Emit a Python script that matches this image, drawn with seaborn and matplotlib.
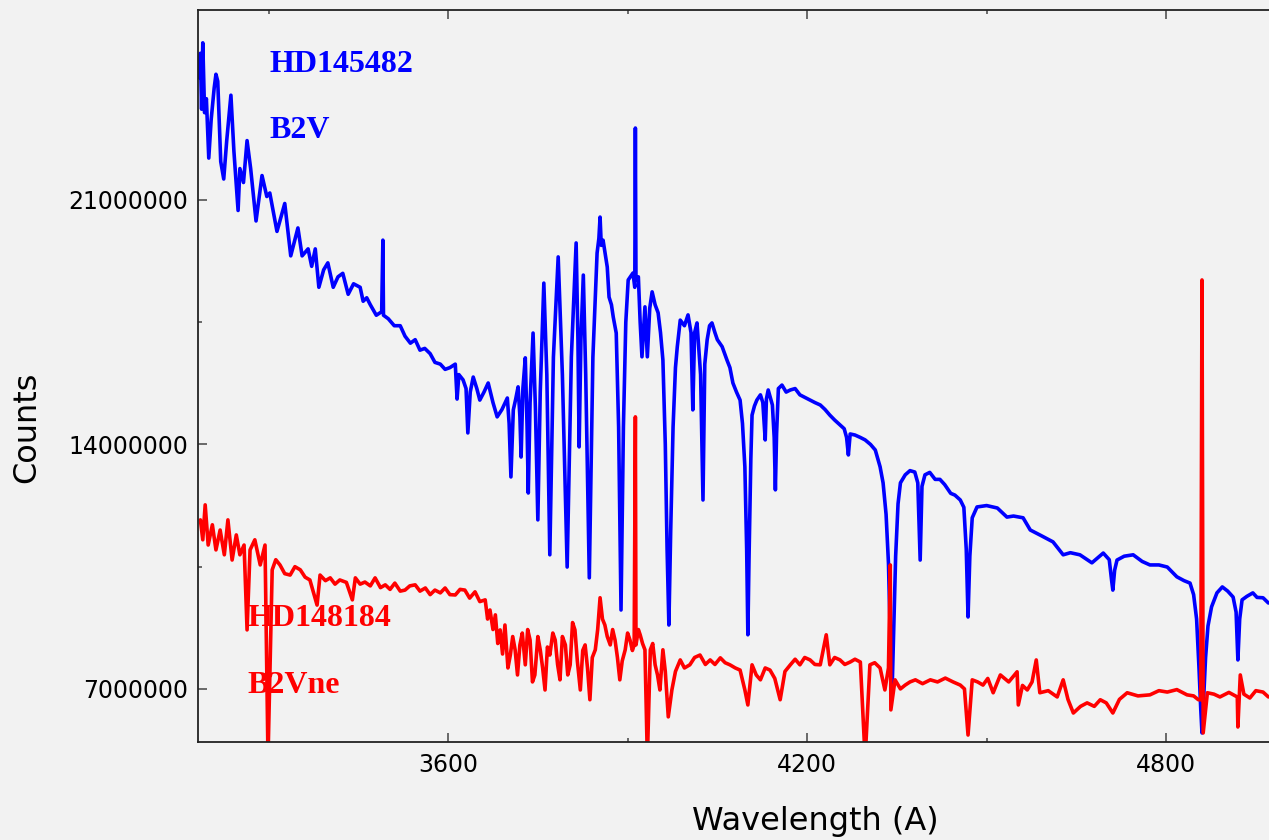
import numpy as np
import pandas as pd
import matplotlib
matplotlib.use("Agg")
import matplotlib.pyplot as plt
from matplotlib.ticker import MultipleLocator
import seaborn as sns

# HD145482 (B2V): (wavelength in A, counts in millions)
blue_points = [
    (3184, 24.5), (3186, 25.2), (3188, 23.6), (3190, 25.5), (3193, 23.5), (3196, 23.9),
    (3200, 22.2), (3204, 23.3), (3209, 24.2), (3212, 24.6), (3215, 24.4), (3220, 22.1),
    (3225, 21.6), (3230, 22.7), (3237, 24.0), (3242, 22.4), (3249, 20.7), (3252, 21.9),
    (3258, 21.5), (3264, 22.7), (3270, 21.9), (3279, 20.4), (3289, 21.7), (3297, 21.1),
    (3302, 21.2), (3314, 20.1), (3327, 20.9), (3337, 19.4), (3349, 20.2), (3356, 19.4),
    (3366, 19.6), (3372, 19.1), (3378, 19.6), (3384, 18.5), (3392, 19.0), (3399, 19.2),
    (3408, 18.5), (3416, 18.8), (3424, 18.9), (3433, 18.3), (3442, 18.6), (3453, 18.5),
    (3458, 18.1), (3464, 18.2), (3470, 18.0), (3480, 17.7), (3489, 17.8), (3491, 19.85),
    (3492, 17.7), (3500, 17.6), (3510, 17.4), (3520, 17.4), (3528, 17.1), (3537, 16.9),
    (3545, 17.0), (3553, 16.7), (3561, 16.75), (3570, 16.6), (3578, 16.35), (3587, 16.3),
    (3595, 16.15), (3603, 16.2), (3612, 16.3), (3615, 15.3), (3618, 16.0), (3625, 15.85),
    (3630, 15.6), (3633, 14.33), (3637, 15.5), (3642, 15.93), (3648, 15.6), (3653, 15.27),
    (3660, 15.5), (3667, 15.76), (3675, 15.2), (3682, 14.79), (3690, 15.0), (3699, 15.33),
    (3702, 14.6), (3705, 13.07), (3709, 14.99), (3713, 15.3), (3717, 15.65), (3720, 14.8),
    (3722, 13.64), (3725, 15.6), (3729, 16.48), (3732, 14.5), (3734, 12.61), (3737, 15.2),
    (3742, 17.19), (3746, 15.0), (3750, 11.84), (3754, 15.5), (3760, 18.62), (3765, 16.0),
    (3770, 10.84), (3776, 16.5), (3784, 19.37), (3791, 16.0), (3799, 10.49), (3806, 16.5),
    (3814, 19.77), (3817, 17.0), (3819, 13.93), (3822, 17.0), (3826, 18.85), (3830, 16.0),
    (3836, 10.18), (3842, 16.5), (3849, 19.48), (3852, 19.9), (3854, 20.51), (3856, 19.7),
    (3859, 19.85), (3866, 19.08), (3869, 18.22), (3873, 18.0), (3876, 17.65), (3881, 17.19),
    (3885, 14.5), (3889, 9.26), (3893, 14.5), (3897, 17.5), (3901, 18.71), (3909, 18.91),
    (3912, 18.5), (3913, 23.06), (3914, 18.7), (3918, 18.8), (3921, 17.5), (3924, 16.51),
    (3929, 17.94), (3933, 16.51), (3937, 17.9), (3941, 18.37), (3946, 18.0), (3951, 17.77),
    (3955, 17.2), (3959, 16.42), (3963, 14.0), (3966, 11.0), (3969, 8.83), (3972, 11.5),
    (3976, 14.5), (3980, 16.2), (3983, 16.79), (3988, 17.56), (3995, 17.4), (4001, 17.71),
    (4006, 17.2), (4009, 14.99), (4012, 17.2), (4016, 17.48), (4022, 16.0), (4026, 12.41),
    (4029, 16.3), (4033, 17.0), (4037, 17.4), (4041, 17.48), (4046, 17.2), (4050, 17.0),
    (4058, 16.8), (4066, 16.42), (4071, 16.2), (4076, 15.76), (4082, 15.5), (4088, 15.27),
    (4092, 14.6), (4096, 13.36), (4099, 11.0), (4101, 8.55), (4103, 10.8), (4106, 13.6),
    (4108, 14.84), (4112, 15.1), (4116, 15.27), (4122, 15.42), (4126, 15.2), (4130, 14.13),
    (4132, 15.3), (4135, 15.56), (4142, 15.13), (4145, 14.2), (4147, 12.7), (4149, 14.3),
    (4152, 15.6), (4158, 15.7), (4165, 15.5), (4172, 15.56), (4180, 15.6), (4188, 15.42),
    (4196, 15.35), (4205, 15.27), (4213, 15.2), (4222, 15.13), (4230, 15.0), (4238, 14.84),
    (4246, 14.7), (4255, 14.56), (4262, 14.45), (4266, 14.2), (4269, 13.7), (4272, 14.3),
    (4280, 14.27), (4289, 14.2), (4297, 14.13), (4306, 14.0), (4314, 13.84), (4322, 13.36),
    (4327, 12.9), (4332, 12.0), (4336, 10.6), (4339, 8.5), (4342, 6.9), (4345, 8.8),
    (4348, 10.8), (4352, 12.3), (4356, 12.9), (4364, 13.13), (4372, 13.25), (4380, 13.21),
    (4385, 12.9), (4389, 10.69), (4392, 12.8), (4397, 13.13), (4405, 13.2), (4414, 13.0),
    (4422, 13.0), (4430, 12.85), (4440, 12.6), (4447, 12.55), (4456, 12.41), (4462, 12.2),
    (4466, 11.0), (4469, 9.06), (4472, 10.8), (4476, 11.9), (4484, 12.21), (4500, 12.25),
    (4518, 12.18), (4534, 11.92), (4545, 11.95), (4561, 11.9), (4573, 11.55), (4590, 11.4),
    (4611, 11.21), (4628, 10.84), (4640, 10.9), (4656, 10.84), (4676, 10.61), (4695, 10.89),
    (4705, 10.7), (4709, 10.1), (4711, 9.83), (4714, 10.4), (4718, 10.69), (4730, 10.8),
    (4745, 10.84), (4760, 10.65), (4773, 10.55), (4788, 10.55), (4802, 10.49), (4818, 10.21),
    (4830, 10.1), (4840, 10.03), (4846, 9.7), (4851, 9.0), (4855, 7.6), (4858, 6.4),
    (4860, 5.74), (4863, 6.8), (4866, 7.9), (4870, 8.8), (4876, 9.35), (4885, 9.75),
    (4894, 9.92), (4903, 9.8), (4912, 9.63), (4917, 9.2), (4920, 7.83), (4923, 9.0),
    (4927, 9.55), (4935, 9.65), (4945, 9.75), (4952, 9.62), (4962, 9.61), (4971, 9.46),
]

# HD148184 (B2Vne)
red_points = [
    (3186, 11.84), (3190, 11.27), (3194, 12.27), (3199, 11.12), (3206, 11.7), (3212, 10.98),
    (3219, 11.55), (3226, 10.84), (3232, 11.84), (3239, 10.69), (3246, 11.41), (3252, 10.84),
    (3259, 11.12), (3264, 8.69), (3269, 10.98), (3277, 11.27), (3286, 10.55), (3294, 11.12),
    (3299, 5.0), (3306, 10.41), (3312, 10.7), (3319, 10.55), (3327, 10.3), (3336, 10.26),
    (3344, 10.5), (3353, 10.41), (3361, 10.2), (3369, 10.12), (3381, 9.4), (3386, 10.26),
    (3395, 10.1), (3403, 10.18), (3411, 10.0), (3419, 10.12), (3430, 10.05), (3440, 9.55),
    (3445, 10.18), (3453, 10.0), (3461, 10.06), (3470, 9.95), (3478, 10.18), (3487, 9.9),
    (3495, 9.98), (3503, 9.85), (3511, 10.03), (3520, 9.8), (3528, 9.83), (3536, 9.95),
    (3545, 9.98), (3553, 9.8), (3562, 9.89), (3570, 9.7), (3578, 9.83), (3587, 9.75),
    (3595, 9.89), (3603, 9.7), (3612, 9.69), (3620, 9.85), (3628, 9.83), (3636, 9.6),
    (3645, 9.78), (3653, 9.5), (3662, 9.55), (3666, 9.0), (3670, 9.26), (3675, 8.7),
    (3679, 9.12), (3683, 8.3), (3687, 8.69), (3691, 8.0), (3695, 8.83), (3700, 7.6),
    (3704, 7.97), (3708, 8.5), (3712, 8.12), (3716, 7.4), (3720, 8.26), (3724, 8.6),
    (3729, 7.69), (3733, 8.7), (3737, 8.4), (3741, 7.2), (3745, 7.4), (3750, 8.5),
    (3754, 8.12), (3758, 7.6), (3762, 6.97), (3766, 8.2), (3770, 7.97), (3775, 8.6),
    (3779, 8.4), (3783, 7.7), (3787, 7.26), (3791, 8.5), (3796, 8.26), (3800, 7.4),
    (3804, 7.69), (3808, 8.9), (3812, 8.69), (3816, 7.8), (3821, 6.97), (3825, 8.1),
    (3829, 8.26), (3833, 7.6), (3837, 6.69), (3841, 7.9), (3846, 8.12), (3850, 8.7),
    (3854, 9.61), (3858, 9.0), (3862, 8.83), (3866, 8.5), (3871, 8.26), (3875, 8.7),
    (3879, 8.4), (3883, 7.9), (3887, 7.26), (3891, 7.8), (3896, 8.12), (3900, 8.6),
    (3904, 8.4), (3908, 8.1), (3911, 8.26), (3913, 14.79), (3914, 8.26), (3918, 8.7),
    (3921, 8.55), (3925, 8.3), (3929, 8.12), (3933, 5.0), (3938, 8.12), (3942, 8.3),
    (3946, 7.69), (3950, 7.4), (3954, 6.97), (3959, 8.12), (3963, 7.5), (3968, 6.2),
    (3974, 6.97), (3980, 7.5), (3988, 7.83), (3995, 7.6), (4004, 7.69), (4012, 7.9),
    (4021, 7.97), (4030, 7.7), (4038, 7.83), (4046, 7.7), (4055, 7.89), (4063, 7.75),
    (4071, 7.69), (4080, 7.6), (4088, 7.54), (4096, 6.97), (4101, 6.54), (4108, 7.69),
    (4115, 7.4), (4122, 7.26), (4130, 7.6), (4138, 7.54), (4146, 7.3), (4155, 6.69),
    (4163, 7.5), (4172, 7.69), (4180, 7.85), (4188, 7.69), (4196, 7.9), (4205, 7.83),
    (4213, 7.7), (4222, 7.69), (4232, 8.55), (4238, 7.69), (4246, 7.9), (4255, 7.83),
    (4263, 7.7), (4272, 7.77), (4280, 7.85), (4289, 7.77), (4297, 5.0), (4305, 7.69),
    (4313, 7.75), (4322, 7.6), (4330, 6.97), (4336, 7.6), (4339, 10.55), (4340, 6.4),
    (4347, 7.26), (4356, 7.0), (4364, 7.11), (4372, 7.2), (4381, 7.26), (4393, 7.15),
    (4406, 7.26), (4418, 7.2), (4431, 7.31), (4444, 7.2), (4456, 7.11), (4463, 7.0),
    (4469, 5.68), (4476, 7.26), (4485, 7.2), (4494, 7.11), (4502, 7.3), (4511, 6.89),
    (4523, 7.4), (4537, 7.2), (4551, 7.49), (4553, 6.54), (4560, 7.1), (4568, 6.97),
    (4576, 7.2), (4583, 7.83), (4589, 6.89), (4603, 6.95), (4618, 6.77), (4628, 7.26),
    (4636, 6.7), (4645, 6.31), (4657, 6.5), (4668, 6.6), (4680, 6.5), (4690, 6.69),
    (4700, 6.6), (4711, 6.31), (4722, 6.7), (4735, 6.89), (4753, 6.8), (4773, 6.83),
    (4788, 6.95), (4802, 6.91), (4818, 6.98), (4835, 6.83), (4846, 6.8), (4854, 6.69),
    (4858, 6.69), (4860, 18.71), (4862, 5.74), (4869, 6.89), (4880, 6.85), (4890, 6.77),
    (4905, 6.9), (4919, 6.77), (4920, 5.91), (4924, 7.4), (4930, 6.85), (4940, 6.74),
    (4950, 6.95), (4962, 6.91), (4971, 6.77),
]

blue_wave, blue_mcounts = zip(*blue_points)
red_wave, red_mcounts = zip(*red_points)
blue = pd.DataFrame({"wave": blue_wave, "counts": np.array(blue_mcounts) * 1e6})
red = pd.DataFrame({"wave": red_wave, "counts": np.array(red_mcounts) * 1e6})

sns.set_style("ticks")
plt.rcParams["font.family"] = ["DejaVu Sans"]

bg = "#f2f2f2"
fig = plt.figure(figsize=(12.69, 8.4), dpi=100, facecolor=bg)
ax = fig.add_axes([198 / 1269, 1 - 742 / 840, 1 - 198 / 1269, 732 / 840])
ax.set_facecolor(bg)

sns.lineplot(data=blue, x="wave", y="counts", color="#0000ff", linewidth=2.6,
             estimator=None, sort=False, ax=ax)
sns.lineplot(data=red, x="wave", y="counts", color="#ff0000", linewidth=2.6,
             estimator=None, sort=False, ax=ax)

ax.set_xlim(3182, 4972)
ax.set_ylim(5.48e6, 26.44e6)
ax.xaxis.set_major_locator(MultipleLocator(600))
ax.xaxis.set_minor_locator(MultipleLocator(300))
ax.yaxis.set_major_locator(MultipleLocator(7e6))
ax.yaxis.set_minor_locator(MultipleLocator(3.5e6))
ax.ticklabel_format(style="plain", useOffset=False)

ax.tick_params(which="both", direction="in", top=True, right=False, color="#444444",
               width=1.1, labelsize=17, labelcolor="black")
ax.tick_params(which="major", length=6.5)
ax.tick_params(which="minor", length=3.2)
ax.tick_params(axis="x", pad=8)
ax.tick_params(axis="y", pad=7)

for side in ["left", "top", "bottom"]:
    ax.spines[side].set_color("#222222")
    ax.spines[side].set_linewidth(1.3)
ax.spines["right"].set_visible(False)

ax.set_xlabel("Wavelength (A)", fontsize=23, va="center", color="black")
ax.set_ylabel("Counts", fontsize=23, va="center", color="black")
ax.xaxis.set_label_coords(0.576, -0.109)
ax.yaxis.set_label_coords(-0.160, 0.43)

serif = dict(family=["Liberation Serif", "DejaVu Serif"], fontweight="bold", fontsize=23,
             va="center", ha="left", zorder=5)
ax.text(3302, 24.87e6, "HD145482", color="#0000ff", **serif)
ax.text(3302, 23.0e6, "B2V", color="#0000ff", **serif)
ax.text(3264, 9.03e6, "HD148184", color="#ff0000", **serif)
ax.text(3264, 7.11e6, "B2Vne", color="#ff0000", **serif)

fig.savefig("out.png", dpi=100, facecolor=bg)
